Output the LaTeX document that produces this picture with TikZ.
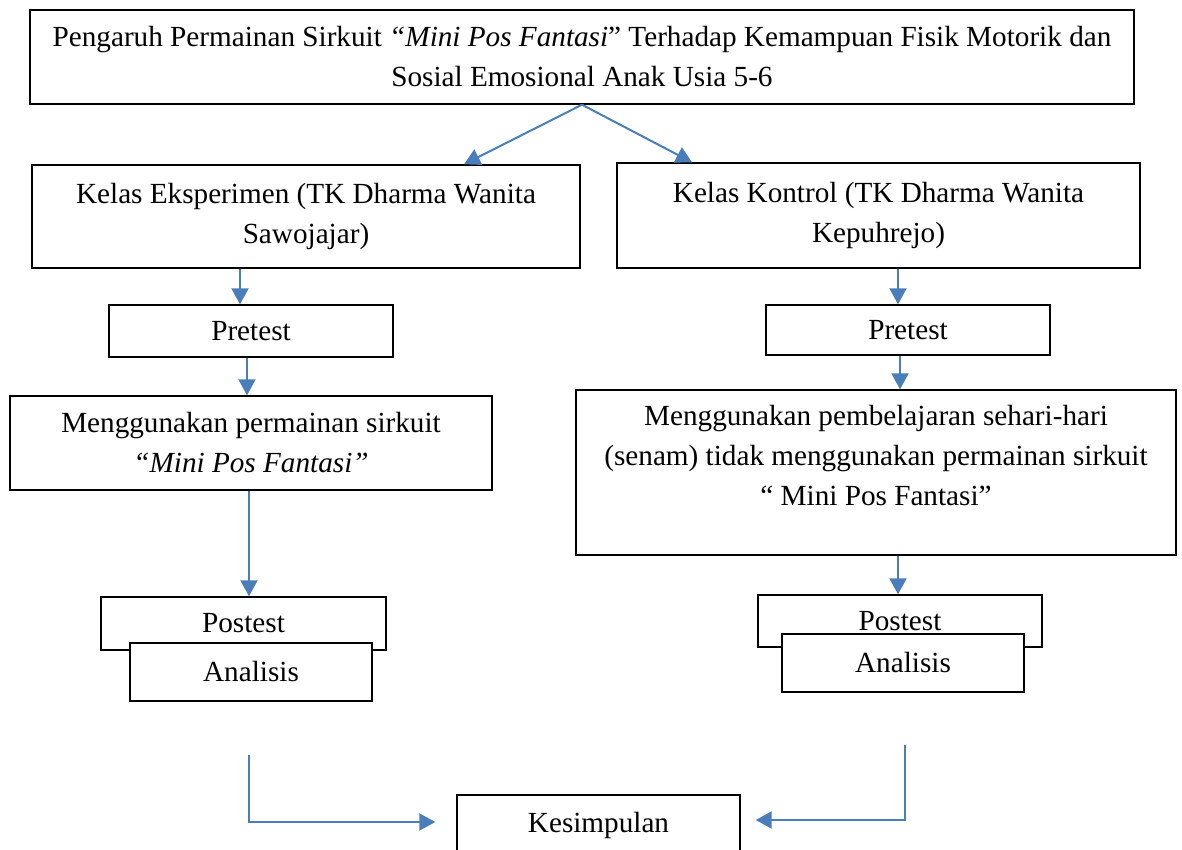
\documentclass[tikz,border=0pt]{standalone}
\usepackage{fontspec}
\setmainfont{Liberation Serif}
\usetikzlibrary{arrows.meta,positioning,calc}

\definecolor{arrowblue}{HTML}{4A7EBB}
\tikzset{
  box/.style={draw,line width=0.7pt,fill=white,align=center,inner sep=0pt,
    font=\fontsize{14.6}{20}\selectfont},
  boxtext/.style={align=center,inner sep=0pt,font=\fontsize{14.6}{20}\selectfont},
  link/.style={draw=arrowblue,line width=1pt,-{Triangle[length=8pt,width=8.5pt]}},
}

\begin{document}
\begin{tikzpicture}[x=0.5pt,y=-0.5pt]
\useasboundingbox (0,0) rectangle (1182,850);
% title
\node[box,minimum width=552pt,minimum height=47pt] (title) at (582,57)
  {Pengaruh Permainan Sirkuit \textit{“Mini Pos Fantasi}” Terhadap Kemampuan Fisik Motorik dan\\Sosial Emosional Anak Usia 5-6};
% two classes
\node[box,minimum width=274pt,minimum height=51.5pt] (eksp) at (306,216.5)
  {Kelas Eksperimen (TK Dharma Wanita\\Sawojajar)};
\node[box,minimum width=261.5pt,minimum height=52.5pt] (kont) at (878.5,215.5)
  {Kelas Kontrol (TK Dharma Wanita\\Kepuhrejo)};
% pretest
\node[box,minimum width=142pt,minimum height=26pt] (pre1) at (251,331) {Pretest};
\node[box,minimum width=142pt,minimum height=25pt] (pre2) at (908,330) {Pretest};
% treatment
\node[box,minimum width=241pt,minimum height=47pt] (men1) at (251,443)
  {Menggunakan permainan sirkuit\\\textit{“Mini Pos Fantasi”}};
\node[box,minimum width=300pt,minimum height=82.5pt] (men2) at (876,472.5) {};
\node[boxtext] (men2txt) at (876,456)
  {Menggunakan pembelajaran sehari-hari\\(senam) tidak menggunakan permainan sirkuit\\“ Mini Pos Fantasi”};
% postest + analisis
\node[box,minimum width=142.5pt,minimum height=26.5pt] (post1) at (243.5,623.5) {Postest};
\node[box,minimum width=121pt,minimum height=29pt] (ana1) at (251,672) {Analisis};
\node[box,minimum width=142pt,minimum height=26pt] (post2) at (900,621) {Postest};
\node[box,minimum width=121pt,minimum height=29pt] (ana2) at (903,663) {Analisis};
% conclusion
\node[box,minimum width=141.5pt,minimum height=30pt] (kes) at (598.5,825) {Kesimpulan};

% connectors
\draw[link] (title.south) -- (eksp.north -| 464,0);
\draw[link] (title.south) -- (kont.north -| 692,0);
\draw[link] (eksp.south -| 240,0) -- (pre1.north -| 240,0);
\draw[link] (kont.south -| 898,0) -- (pre2.north -| 898,0);
\draw[link] (pre1.south -| 247,0) -- (men1.north -| 247,0);
\draw[link] (pre2.south -| 900,0) -- (men2.north -| 900,0);
\draw[link] (men1.south -| 249,0) -- (post1.north -| 249,0);
\draw[link] (men2.south -| 898,0) -- (post2.north -| 898,0);
\coordinate (lfree) at (249,755);
\coordinate (rfree) at (905,745);
\draw[link] (lfree) |- ([xshift=-10.5pt,yshift=1.5pt]kes.west);
\draw[link] (rfree) |- ([xshift=7.5pt,yshift=2.5pt]kes.east);
\end{tikzpicture}
\end{document}
